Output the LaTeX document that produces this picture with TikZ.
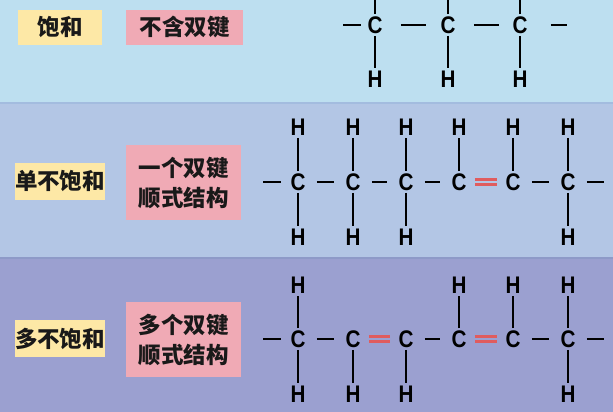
\documentclass[tikz,border=0pt]{standalone}
\usepackage{fontspec}
\usepackage{xcolor}
\newfontfamily\cjk{Noto Sans CJK SC}
\newfontfamily\atomfont[FakeStretch=0.86]{Liberation Sans}
\definecolor{bandtop}{HTML}{BDDFF0}
\definecolor{bandmid}{HTML}{B3C6E5}
\definecolor{bandlow}{HTML}{9BA0D0}
\definecolor{bandedge}{HTML}{A3BCDF}
\definecolor{bandedgelow}{HTML}{8E9AC8}
\definecolor{tagyellow}{HTML}{FDE8A6}
\definecolor{tagpink}{HTML}{F0AAB5}
\definecolor{bondred}{HTML}{E05C5E}

\begin{document}
\begin{tikzpicture}
  [x=1pt,y=-1pt,
   every node/.style={inner sep=0pt,outer sep=2.5pt,font=\atomfont\bfseries\fontsize{24}{24}\selectfont},
   tag/.style={outer sep=0pt,align=center,text=black!90,font=\cjk\bfseries\fontsize{22.5}{30}\selectfont},
   bond/.style={line width=2.8pt},
   hbond/.style={bond,shorten <=9pt,shorten >=9pt},
   dbond/.style={line width=2.8pt,draw=bondred,double distance=2pt,shorten <=6pt,shorten >=6pt}]
  \useasboundingbox (0,0) rectangle (613,412);
  \clip (0,0) rectangle (613,412);
  \fill[bandtop] (0,0) rectangle (613,103);
  \fill[bandmid] (0,103) rectangle (613,258);
  \fill[bandlow] (0,258) rectangle (613,412);
  \draw[bandedge,line width=1.5pt] (0,103) -- (613,103);
  \draw[bandedgelow,line width=1.5pt] (0,258) -- (613,258);

  % labels
  \node[tag,fill=tagyellow,minimum width=84pt,minimum height=35pt] (sat) at (60,27.5) {饱和};
  \node[tag,fill=tagpink,minimum width=117pt,minimum height=35pt] (satd) at (184.5,27.5) {不含双键};
  \node[tag,fill=tagyellow,minimum width=88pt,minimum height=37pt] (mono) at (60,181.5) {单不饱和};
  \node[tag,fill=tagpink,minimum width=115pt,minimum height=75pt] (monod) at (183.5,182.5) {一个双键\\顺式结构};
  \node[tag,fill=tagyellow,minimum width=88pt,minimum height=37pt] (poly) at (60,338.5) {多不饱和};
  \node[tag,fill=tagpink,minimum width=115pt,minimum height=75pt] (polyd) at (183.5,339.5) {多个双键\\顺式结构};

  % saturated chain
  \foreach \i/\x in {1/375,2/448,3/520} {
    \node (s\i) at (\x,25) {C};
    \node (sh\i) at (\x,79) {H};
    \coordinate (st\i) at (\x,-5);
  }
  \coordinate (sl) at (343,25);
  \coordinate (sr) at (567,25);

  % mono and poly chains
  \foreach \i/\x in {1/298,2/353,3/406,4/459,5/513,6/568} {
    \node (m\i) at (\x,182) {C};
    \node (mt\i) at (\x,127) {H};
    \node (p\i) at (\x,339) {C};
  }
  \foreach \i/\x in {1/298,2/353,3/406,6/568} {
    \node (mb\i) at (\x,237) {H};
    \node (pb\i) at (\x,394) {H};
  }
  \foreach \i/\x in {1/298,4/459,5/513,6/568}
    \node (pt\i) at (\x,285) {H};
  \coordinate (ml) at (263,182);
  \coordinate (mr) at (604,182);
  \coordinate (pl) at (263,339);
  \coordinate (pr) at (604,339);

  \foreach \from/\to in {s1/st1,s2/st2,s3/st3,s1/sh1,s2/sh2,s3/sh3,
      m1/mt1,m2/mt2,m3/mt3,m4/mt4,m5/mt5,m6/mt6,m1/mb1,m2/mb2,m3/mb3,m6/mb6,
      p1/pt1,p4/pt4,p5/pt5,p6/pt6,p1/pb1,p2/pb2,p3/pb3,p6/pb6}
    \draw[bond] (\from) -- (\to);

  \draw[bond,shorten >=4pt] (sl) -- (s1);
  \draw[bond,shorten <=16pt,shorten >=12pt] (s1) -- (s2);
  \draw[bond,shorten <=16pt,shorten >=11pt] (s2) -- (s3);
  \draw[bond,shorten <=21pt] (s3) -- (sr);

  \foreach \from/\to in {m1/m2,m2/m3,m3/m4,m5/m6,p1/p2,p3/p4,p5/p6}
    \draw[hbond] (\from) -- (\to);
  \foreach \from/\to in {ml/m1,pl/p1}
    \draw[bond,shorten >=7pt] (\from) -- (\to);
  \foreach \from/\to in {m6/mr,p6/pr}
    \draw[bond,shorten <=9pt] (\from) -- (\to);

  \draw[dbond,double=bandmid] (m4) -- (m5);
  \draw[dbond,double=bandlow] (p2) -- (p3);
  \draw[dbond,double=bandlow] (p4) -- (p5);

\end{tikzpicture}
\end{document}
